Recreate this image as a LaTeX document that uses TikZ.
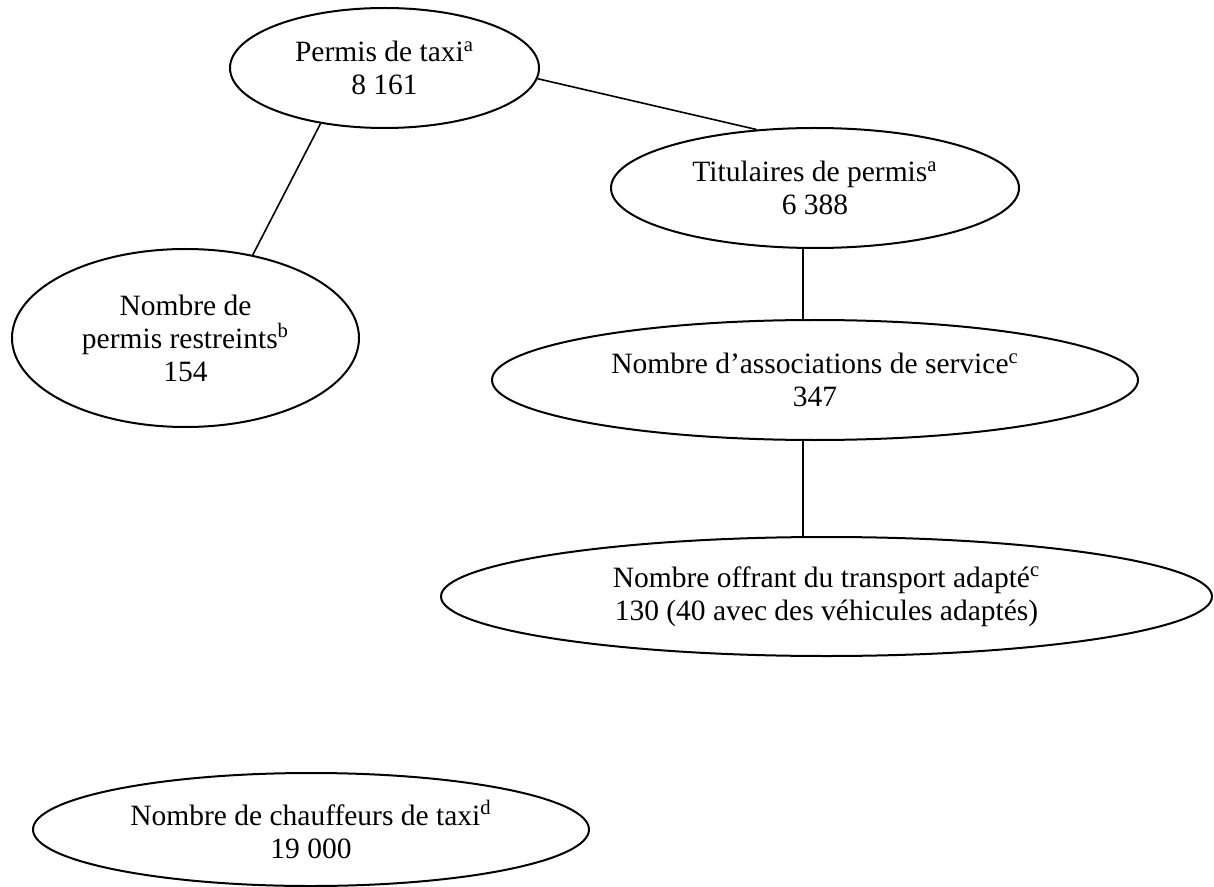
\documentclass[tikz,border=0pt]{standalone}
\usepackage{fontspec}
\setmainfont{Liberation Serif}
\usetikzlibrary{shapes.geometric}
\begin{document}
\begin{tikzpicture}[x=0.5pt,y=-0.5pt,
  oval/.style={ellipse, draw, line width=1pt, inner sep=0pt, align=center,
    font=\fontsize{14.75pt}{16.5pt}\selectfont},
  link/.style={line width=0.8pt}]
\useasboundingbox (0,0) rectangle (1214,887);
\node[oval, minimum width=154.5pt, minimum height=60pt] (e1) at (384.5,68)
  {Permis de taxi\textsuperscript{a}\\8 161};
\node[oval, minimum width=204pt, minimum height=60pt] (e2) at (815,188)
  {Titulaires de permis\textsuperscript{a}\\6 388};
\node[oval, minimum width=173.5pt, minimum height=89pt] (e3) at (185.5,338)
  {Nombre de\\permis restreints\textsuperscript{b}\\154};
\node[oval, minimum width=323pt, minimum height=60pt] (e4) at (815,380)
  {Nombre d’associations de service\textsuperscript{c}\\347};
\node[oval, minimum width=385.5pt, minimum height=59.5pt] (e5) at (826.5,596.5)
  {Nombre offrant du transport adapté\textsuperscript{c}\\130 (40 avec des véhicules adaptés)};
\node[oval, minimum width=278pt, minimum height=56.5pt] (e6) at (311,829.5)
  {Nombre de chauffeurs de taxi\textsuperscript{d}\\19 000};
\draw[link] (e1.-4.5) -- (e2.135.2);
\draw[link] (e1.221.8) -- (e3.51.5);
\draw[link] ([xshift=-6pt]e2.south) -- ([xshift=-6pt]e4.north);
\draw[link] ([xshift=-6pt]e4.south) -- ([xshift=-11.75pt]e5.north);
\end{tikzpicture}
\end{document}
